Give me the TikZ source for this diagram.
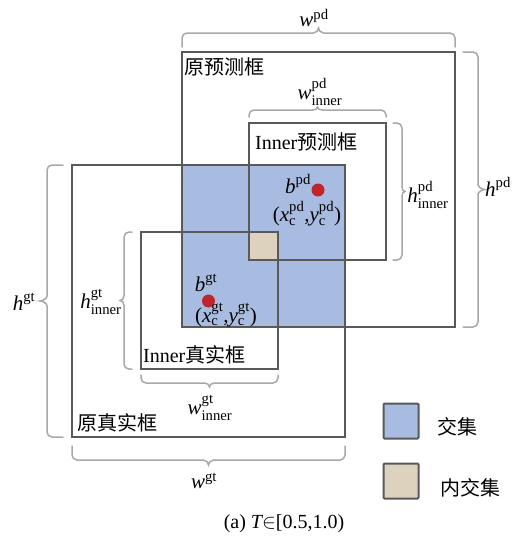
\documentclass[tikz,border=0pt]{standalone}
\usepackage{amsmath}
\usepackage{fontspec}
\setmainfont{Liberation Serif}
\newfontfamily\cjk{Noto Sans CJK SC}
\usetikzlibrary{backgrounds,calc}
\definecolor{boxline}{HTML}{595959}
\definecolor{interblue}{HTML}{A7BCE0}
\definecolor{innertan}{HTML}{DDD2BE}
\definecolor{dotred}{HTML}{C0252D}
\definecolor{bracegray}{HTML}{A8A8A8}
\tikzset{
  rbox/.style={draw=boxline, line width=2pt, inner sep=0pt, outer sep=0pt, anchor=north west},
  lab/.style={inner sep=0pt, font=\fontsize{21}{25}\selectfont},
  cjklab/.style={inner sep=0pt, anchor=west, font=\fontsize{20}{24}\selectfont},
  brc/.style={draw=bracegray, line width=1.5pt, line cap=round},
  pics/brc/.style n args={3}{code={
    \draw[brc, rounded corners=5pt] (0,0) -- (0,-#2) -- ({#1/2-5},-#2);
    \draw[brc, rounded corners=5pt] (#1,0) -- (#1,-#2) -- ({#1/2+5},-#2);
    \draw[brc] ({#1/2-5},-#2) .. controls ({#1/2-2},-#2) and ({#1/2},{-#2-#3+2}) .. ({#1/2},{-#2-#3})
               .. controls ({#1/2},{-#2-#3+2}) and ({#1/2+2},-#2) .. ({#1/2+5},-#2);
  }},
  up/.style={},
  down/.style={x={(1pt,0pt)}, y={(0pt,1pt)}},
  right/.style={x={(0pt,-1pt)}, y={(-1pt,0pt)}},
  left/.style={x={(0pt,-1pt)}, y={(1pt,0pt)}},
}
\begin{document}
\begin{tikzpicture}[x=1pt, y=-1pt]
\useasboundingbox (0,0) rectangle (523,541);
% boxes
\node[rbox, minimum width=273pt, minimum height=275pt] (pd) at (182,52) {};
\node[rbox, minimum width=273pt, minimum height=272pt] (gt) at (72,165) {};
\node[rbox, minimum width=137pt, minimum height=137pt] (ipd) at (249,123) {};
\node[rbox, minimum width=137pt, minimum height=137pt] (igt) at (141,232) {};
\begin{scope}[on background layer]
  \fill[interblue] (pd.west |- gt.north) rectangle (gt.east |- pd.south);
  \fill[innertan] (ipd.west |- igt.north) rectangle (igt.east |- ipd.south);
\end{scope}
% centre dots
\fill[dotred] (318,190) circle (6.5pt);
\fill[dotred] (208.5,301) circle (6.5pt);
% box labels
\node[cjklab] (tpd) at (184,67) {\cjk 原预测框};
\node[cjklab] (tipd) at (255,142) {Inner\cjk 预测框};
\node[cjklab] (tigt) at (143,355) {Inner\cjk 真实框};
\node[cjklab] (tgt) at (77,423) {\cjk 原真实框};
\node[lab] (bpd) at (298,184) {$\textit{b}^{\text{pd}}$};
\node[lab] (cpd) at (307,214) {$\text{(}\textit{x}^{\text{pd}}_{\text{c}}\text{,}\textit{y}^{\text{pd}}_{\text{c}}\text{)}$};
\node[lab] (bgt) at (206,283) {$\textit{b}^{\text{gt}}$};
\node[lab] (cgt) at (226,315) {$\text{(}\textit{x}^{\text{gt}}_{\text{c}}\text{,}\textit{y}^{\text{gt}}_{\text{c}}\text{)}$};
% braces
\path ([yshift=5pt]pd.north west) pic[up] {brc={273}{14}{5}};
\path ([xshift=8pt]pd.north east) pic[right] {brc={275}{15}{7}};
\path ([xshift=-9pt]gt.north west) pic[left] {brc={272}{16}{7}};
\path ([yshift=-9pt]gt.south west) pic[down] {brc={273}{14}{5}};
\path ([yshift=6pt]ipd.north west) pic[up] {brc={137}{7}{3}};
\path ([xshift=7pt]ipd.north east) pic[right] {brc={137}{9}{3}};
\path ([xshift=-9pt]igt.north west) pic[left] {brc={137}{8}{4}};
\path ([yshift=-6pt]igt.south west) pic[down] {brc={137}{8}{4}};
% brace labels
\node[lab] (wpd) at (314,18) {$\textit{w}^{\text{pd}}$};
\node[lab] (hpd) at (498,187) {$\textit{h}^{\text{pd}}$};
\node[lab] (hgt) at (24,302) {$\textit{h}^{\text{gt}}$};
\node[lab] (wgt) at (204,481) {$\textit{w}^{\text{gt}}$};
\node[lab] (wipd) at (320,92) {$\textit{w}^{\text{pd}}_{\text{inner}}$};
\node[lab] (hipd) at (428,195) {$\textit{h}^{\text{pd}}_{\text{inner}}$};
\node[lab] (higt) at (101,302) {$\textit{h}^{\text{gt}}_{\text{inner}}$};
\node[lab] (wigt) at (210,408) {$\textit{w}^{\text{gt}}_{\text{inner}}$};
% legend
\node[draw=boxline, line width=2pt, fill=interblue, minimum size=35pt, inner sep=0pt, rounded corners=1pt] (lg1) at (401,421) {};
\node[cjklab] (lt1) at (437,427) {\cjk 交集};
\node[draw=boxline, line width=2pt, fill=innertan, minimum size=35pt, inner sep=0pt, rounded corners=1pt] (lg2) at (401,481) {};
\node[cjklab] (lt2) at (440,488) {\cjk 内交集};
% caption
\node[lab, font=\fontsize{20}{24}\selectfont] (cap) at (284,524) {(a) $\textit{T}{\in}$[0.5,1.0)};
\end{tikzpicture}
\end{document}
